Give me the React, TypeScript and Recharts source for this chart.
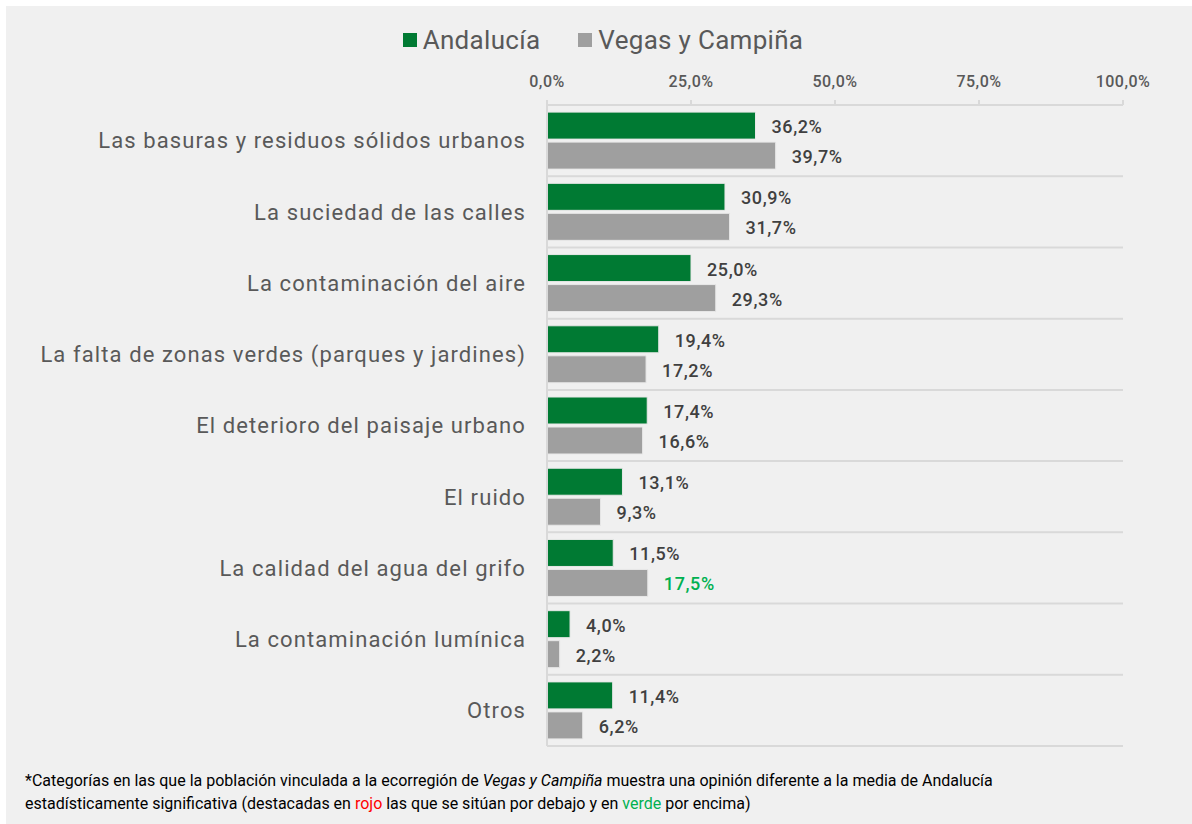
import React from "react";
import { BarChart, Bar, XAxis, YAxis, CartesianGrid, LabelList } from "recharts";

const categories = [
  "Las basuras y residuos sólidos urbanos",
  "La suciedad de las calles",
  "La contaminación del aire",
  "La falta de zonas verdes (parques y jardines)",
  "El deterioro del paisaje urbano",
  "El ruido",
  "La calidad del agua del grifo",
  "La contaminación lumínica",
  "Otros ",
];
const andalucia = [36.2, 30.9, 25.0, 19.4, 17.4, 13.1, 11.5, 4.0, 11.4];
const vegas = [39.7, 31.7, 29.3, 17.2, 16.6, 9.3, 17.5, 2.2, 6.2];
// significance: 1 = above (green), -1 = below (red), 0 = none
const vegasSignificance = [0, 0, 0, 0, 0, 0, 1, 0, 0];
const xTicks = [0, 25, 50, 75, 100];

const data = categories.map((c, i) => ({
  name: c,
  andalucia: andalucia[i],
  vegas: vegas[i],
  sig: vegasSignificance[i],
}));

const GREEN = "#007a33";
const GRAY = "#9f9f9f";
const FONT = "Roboto, 'DejaVu Sans', sans-serif";

const fmt = (v: number) => v.toFixed(1).replace(".", ",") + "%";

const makeLabel = (isVegas: boolean) => (props: any) => {
  const { x, y, width, height, value, index } = props;
  let fill = "#404040";
  if (isVegas) {
    const s = vegasSignificance[index];
    if (s === 1) fill = "#00b050";
    if (s === -1) fill = "#ff0000";
  }
  return (
    <text
      x={x + width + 16}
      y={y + height / 2 + 1}
      dominantBaseline="central"
      fontSize={18}
      fontWeight={500}
      fontFamily={FONT}
      letterSpacing={0.6}
      fill={fill}
    >
      {fmt(value)}
    </text>
  );
};

export default function App() {
  const n = categories.length;
  return (
    <div
      style={{
        position: "absolute",
        left: 0,
        top: 0,
        width: 1192,
        height: 824,
        background: "#ffffff",
        fontFamily: FONT,
      }}
    >
      <div
        style={{
          position: "absolute",
          left: 6,
          top: 6,
          width: 1186,
          height: 818,
          background: "#f0f0f0",
        }}
      />
      {/* Legend */}
      <div
        style={{
          position: "absolute",
          top: 25,
          left: 0,
          width: 1192,
          display: "flex",
          justifyContent: "center",
          alignItems: "center",
          fontSize: 26,
          color: "#595959",
          paddingLeft: 14,
          boxSizing: "border-box",
        }}
      >
        <span style={{ display: "inline-block", width: 14, height: 14, background: GREEN, marginRight: 6 }} />
        <span style={{ marginRight: 38, letterSpacing: 0.3 }}>Andalucía</span>
        <span style={{ display: "inline-block", width: 14, height: 14, background: GRAY, marginRight: 6 }} />
        <span style={{ letterSpacing: 0.3 }}>Vegas y Campiña</span>
      </div>
      <div style={{ position: "absolute", left: 0, top: 0 }}>
        <BarChart
          width={1192}
          height={760}
          data={data}
          layout="vertical"
          margin={{ top: 0, right: 69, bottom: 14, left: 0 }}
          barCategoryGap="10%"
          barGap={3}
        >
          <CartesianGrid
            vertical={false}
            stroke="#d9d9d9"
            strokeWidth={2}
            horizontalCoordinatesGenerator={({ offset }: any) =>
              Array.from({ length: n + 1 }, (_, i) => offset.top + (i * offset.height) / n)
            }
          />
          <XAxis
            type="number"
            orientation="top"
            domain={[0, 100]}
            ticks={xTicks}
            tickFormatter={fmt}
            height={105}
            axisLine={{ stroke: "#d9d9d9", strokeWidth: 2 }}
            tickLine={{ stroke: "#d9d9d9", strokeWidth: 2 }}
            tickSize={5}
            tickMargin={13}
            tick={{ fontSize: 16, fill: "#595959", fontFamily: FONT, fontWeight: 500, letterSpacing: 0.5 }}
          />
          <YAxis
            type="category"
            dataKey="name"
            width={547}
            axisLine={{ stroke: "#d9d9d9", strokeWidth: 2 }}
            tickLine={false}
            tickSize={0}
            tickMargin={21}
            interval={0}
            tick={{ fontSize: 22, fill: "#595959", fontFamily: FONT, letterSpacing: 1.1 }}
          />
          <Bar dataKey="andalucia" fill={GREEN} stroke="#e8e8e8" strokeWidth={1} isAnimationActive={false}>
            <LabelList dataKey="andalucia" content={makeLabel(false)} />
          </Bar>
          <Bar dataKey="vegas" fill={GRAY} stroke="#e8e8e8" strokeWidth={1} isAnimationActive={false}>
            <LabelList dataKey="vegas" content={makeLabel(true)} />
          </Bar>
        </BarChart>
      </div>
      {/* Footnote */}
      <div
        style={{
          position: "absolute",
          left: 25,
          top: 769,
          width: 1160,
          fontSize: 16,
          lineHeight: "23px",
          color: "#000000",
        }}
      >
        *Categorías en las que la población vinculada a la ecorregión de <i>Vegas y Campiña</i> muestra una opinión diferente a la media de Andalucía
        <br />
        estadísticamente significativa (destacadas en <span style={{ color: "#ff0000" }}>rojo</span> las que se sitúan por debajo y en{" "}
        <span style={{ color: "#00b050" }}>verde</span> por encima)
      </div>
    </div>
  );
}
